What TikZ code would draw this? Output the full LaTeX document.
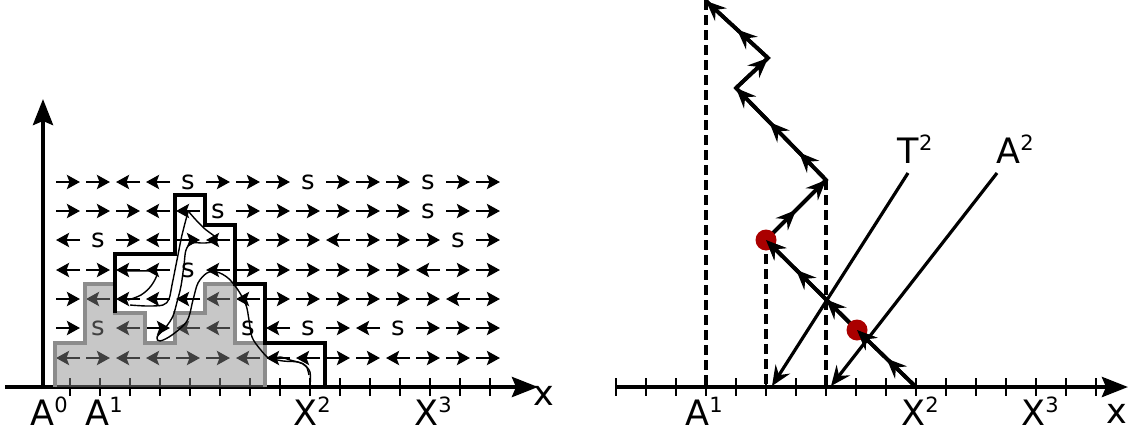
\documentclass[tikz,border=0pt]{standalone}
\usepackage{fontspec}
\setmainfont{DejaVu Sans}
\usetikzlibrary{arrows.meta,decorations.markings,calc}
\definecolor{dotred}{RGB}{170,0,0}
\definecolor{shadefill}{RGB}{137,137,137}
\definecolor{shadeedge}{RGB}{140,140,140}
\tikzset{
 hd/.tip={Stealth[length=20pt,width=17pt,inset=7pt]},
 axisline/.style={line width=4.2pt, -{Stealth[length=26pt,width=20pt,inset=4pt]}},
 tickline/.style={line width=2.6pt},
 garrow/.style={line width=2.8pt, -{Stealth[length=13pt,width=14pt,inset=2.5pt]}},
 stext/.style={inner sep=0pt, font=\fontsize{26}{26}\selectfont},
 lab/.style={inner sep=0pt, anchor=base, font=\fontsize{35}{37}\selectfont},
 stair/.style={line width=3.8pt, line join=miter},
 bpath/.style={line width=1.4pt, line join=round},
 pth/.style={line width=3.8pt, line join=miter},
 diag/.style={line width=3.2pt, -{hd}},
 dashv/.style={line width=3.8pt, dash pattern=on 10pt off 5pt},
 reddot/.style={circle, fill=dotred, minimum size=21pt, inner sep=0pt},
}
\newcommand\sups[1]{\raisebox{13pt}{\fontsize{21}{21}\selectfont #1}}
\newcommand\gridR[2]{\draw[garrow] ({68+30*(#1-1)-12},#2) -- ++(24,0);}
\newcommand\gridL[2]{\draw[garrow] ({68+30*(#1-1)+12},#2) -- ++(-24,0);}
\newcommand\gridS[2]{\node[stext] (s#1x#2) at ({68+30*(#1-1)},#2) {s};}
\begin{document}
\begin{tikzpicture}[x=1pt,y=-1pt]
\useasboundingbox (0,0) rectangle (1132,434);
% ---------------- left panel ----------------
\coordinate (lo) at (5,387); \coordinate (lx) at (538,387);
\coordinate (ly0) at (43,389); \coordinate (ly) at (43,99);
\draw[axisline] (lo) -- (lx);
\draw[axisline] (ly0) -- (ly);
\foreach \k in {0,...,14} \draw[tickline] ({70+30*\k},378) -- ({70+30*\k},396);
\foreach \lst/\yy in {%
 {R,R,L,L,S,R,R,R,S,R,R,R,S,R,R}/182,
 {R,R,R,L,L,S,R,R,R,R,R,R,S,R,R}/211,
 {L,S,R,L,R,L,R,R,R,L,R,R,R,S,R}/240,
 {L,R,L,L,S,L,R,R,R,R,R,R,L,R,R}/270,
 {R,L,L,L,L,L,L,R,R,R,R,R,R,L,R}/299,
 {R,S,L,R,L,L,S,L,S,R,L,S,R,R,R}/328,
 {L,R,L,L,R,R,L,L,L,R,R,L,R,R,R}/358}{
 \foreach \c [count=\i] in \lst {\csname grid\c\endcsname{\i}{\yy}}
}
% shaded region
\fill[shadefill, fill opacity=0.47] (55,387) -- (55,343) -- (85,343) -- (85,284) -- (115,284) -- (115,313) -- (145,313) -- (145,343) -- (175,343) -- (175,313) -- (205,313) -- (205,284) -- (235,284) -- (235,343) -- (265,343) -- (265,387) -- cycle;
\draw[shadeedge, line width=3.2pt] (55,387) -- (55,343) -- (85,343) -- (85,284) -- (115,284) -- (115,313) -- (145,313) -- (145,343) -- (175,343) -- (175,313) -- (205,313) -- (205,284) -- (235,284) -- (235,343) -- (265,343) -- (265,387);
% black staircase
\draw[stair] (115,313) -- (115,254) -- (175,254) -- (175,195) -- (205,195) -- (205,225) -- (235,225) -- (235,284) -- (265,284) -- (265,343) -- (325,343) -- (325,387);
% random paths
\draw[bpath] plot[smooth, tension=0.55] coordinates {(310,386) (310,372) (303,364) (290,360) (280,357) (270,359) (260,349) (252,337) (249,320) (246,305) (238,290) (228,278) (217,272) (207,273) (198,283) (193,300) (187,321) (172,335) (160,341) (157,337) (166,327) (173,316) (177,302) (181,286) (184,265) (186,250) (192,243) (205,243) (218,240) (205,229) (196,220) (189,212)};
\draw[bpath] plot[smooth, tension=0.55] coordinates {(188,212) (182,235) (177,260) (172,285) (169,299) (163,305) (147,306) (130,305)};
\draw[bpath] plot[smooth, tension=0.55] coordinates {(126,271) (150,271) (157,274) (151,286) (141,295) (128,300)};
\draw[bpath] plot[smooth, tension=0.55] coordinates {(268,358) (283,361) (298,362) (306,366) (309,375)};
% labels
\node[lab] (la0) at (49,425) {A\sups{0}};
\node[lab] (la1) at (104,425) {A\sups{1}};
\node[lab] (lx2) at (312,425) {X\sups{2}};
\node[lab] (lx3) at (433,425) {X\sups{3}};
\node[lab] (lxl) at (544,405) {x};
% ---------------- right panel ----------------
\coordinate (ro) at (616,387); \coordinate (rx) at (1128,387);
\draw[axisline] (ro) -- (rx);
\foreach \k in {0,...,16} \draw[tickline] ({616+30*\k},378) -- ({616+30*\k},396);
\coordinate (p0) at (916,387);
\coordinate (p1) at (857,330);
\coordinate (p2) at (766,240);
\coordinate (p3) at (826,180);
\coordinate (p4) at (736,88);
\coordinate (p5) at (768,58);
\coordinate (p6) at (706,1);
\coordinate (a1t) at (706,0); \coordinate (a1b) at (706,387);
\coordinate (d1t) at (766,254); \coordinate (d1b) at (766,387);
\coordinate (d2b) at (826,387);
\draw[dashv] (a1t) -- (a1b);
\draw[dashv] (d1t) -- (d1b);
\draw[dashv] (p3) -- (d2b);
\coordinate (t2t) at (908,173); \coordinate (t2b) at (772,386);
\coordinate (a2t) at (997,173); \coordinate (a2b) at (831,386);
\draw[diag] (t2t) -- (t2b);
\draw[diag] (a2t) -- (a2b);
\draw[pth] (p0) -- (p1) -- (p2) -- (p3) -- (p4) -- (p5) -- (p6);
\draw[pth, postaction=decorate, decoration={markings, mark=at position 0.5 with {\arrow{hd}}, mark=at position 1 with {\arrow{hd}}}] (p0) -- (p1);
\draw[pth, postaction=decorate, decoration={markings, mark=at position 0.34 with {\arrow{hd}}, mark=at position 0.67 with {\arrow{hd}}, mark=at position 1 with {\arrow{hd}}}] (p1) -- (p2);
\draw[pth, postaction=decorate, decoration={markings, mark=at position 0.5 with {\arrow{hd}}, mark=at position 1 with {\arrow{hd}}}] (p2) -- (p3);
\draw[pth, postaction=decorate, decoration={markings, mark=at position 0.3 with {\arrow{hd}}, mark=at position 0.63 with {\arrow{hd}}, mark=at position 1 with {\arrow{hd}}}] (p3) -- (p4);
\draw[pth, postaction=decorate, decoration={markings, mark=at position 1 with {\arrow{hd}}}] (p4) -- (p5);
\draw[pth, postaction=decorate, decoration={markings, mark=at position 0.5 with {\arrow{hd}}, mark=at position 1 with {\arrow{hd}}}] (p5) -- (p6);
\node[reddot] (dot1) at (p2) {};
\node[reddot] (dot2) at (p1) {};
\draw[pth, -{hd}] ($(p1)!8pt!(p0)$) -- (p1);
\draw[pth, -{hd}] ($(p2)!8pt!(p1)$) -- (p2);
% labels
\node[lab] (ra1) at (704,425) {A\sups{1}};
\node[lab] (rx2) at (920,425) {X\sups{2}};
\node[lab] (rx3) at (1040,425) {X\sups{3}};
\node[lab] (rxl) at (1117,423) {x};
\node[lab] (t2l) at (915,163) {T\sups{2}};
\node[lab] (a2l) at (1015,163) {A\sups{2}};
\end{tikzpicture}
\end{document}
